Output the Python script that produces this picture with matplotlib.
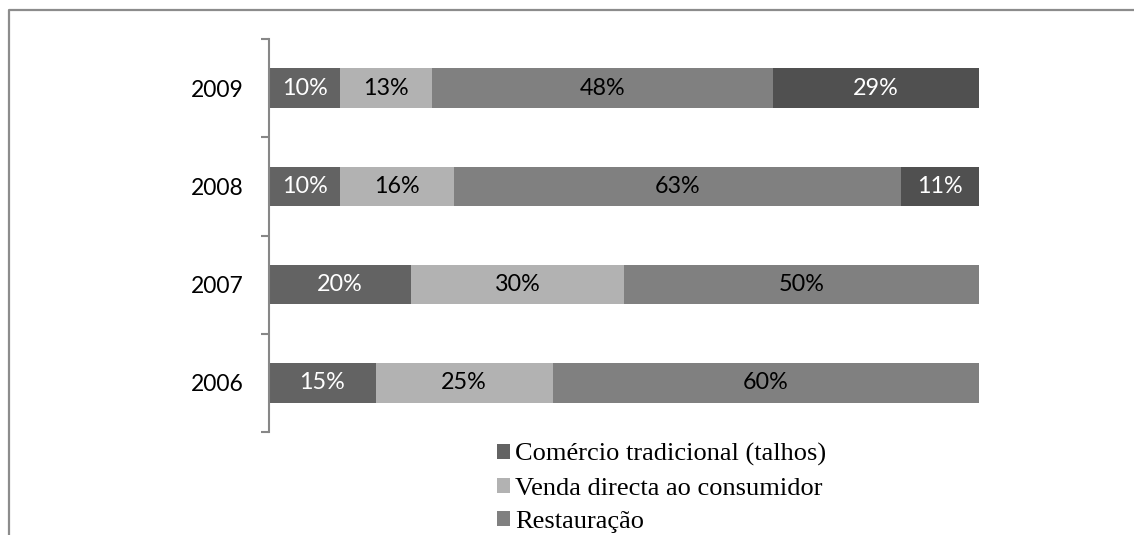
import matplotlib
matplotlib.use("Agg")
import matplotlib.pyplot as plt
from matplotlib.patches import Patch
from matplotlib.lines import Line2D
import numpy as np

years = ["2006", "2007", "2008", "2009"]
series_names = ["Comércio tradicional (talhos)", "Venda directa ao consumidor", "Restauração", "Outros"]
comercio = [15, 20, 10, 10]
venda = [25, 30, 16, 13]
restauracao = [60, 50, 63, 48]
outros = [0, 0, 11, 29]
series_values = [comercio, venda, restauracao, outros]
colors = ["#636363", "#b2b2b2", "#808080", "#505050"]
text_colors = ["white", "black", "black", "white"]

W, H = 1134, 535
fig = plt.figure(figsize=(W / 100, H / 100), dpi=100)
fig.patch.set_facecolor("white")

ax = fig.add_axes([269 / W, 1 - 432 / H, (979 - 269) / W, (432 - 39) / H])
y = np.arange(len(years))
left = np.zeros(len(years))
for vals, col, tcol in zip(series_values, colors, text_colors):
    vals = np.array(vals, dtype=float)
    bars = ax.barh(y, vals, left=left, height=0.4, color=col, edgecolor="none")
    for b, v in zip(bars, vals):
        if v > 0:
            ax.text(b.get_x() + b.get_width() / 2, b.get_y() + b.get_height() / 2,
                    f"{int(v)}%", ha="center", va="center", color=tcol,
                    fontsize=16.8, family="Lato")
    left += vals

ax.set_xlim(0, 100)
ax.set_ylim(-0.5, len(years) - 0.5)
for s in ["top", "right", "bottom"]:
    ax.spines[s].set_visible(False)
ax.spines["left"].set_color("#878787")
ax.spines["left"].set_linewidth(1.5)
ax.set_xticks([])
ax.set_yticks(np.arange(-0.5, len(years)))
ax.set_yticklabels([])
ax.set_yticks(y, minor=True)
ax.set_yticklabels(years, minor=True, fontsize=16.5, family="Lato")
ax.tick_params(axis="y", which="major", length=6, width=1.5, color="#878787")
ax.tick_params(axis="y", which="minor", length=0, pad=18)

handles = [Patch(facecolor=c, edgecolor="none") for c in colors[:3]]
leg = fig.legend(handles, series_names[:3], loc="upper left",
                 bbox_to_anchor=(497 / W, 1 - 443 / H), frameon=False,
                 prop={"family": "Liberation Serif", "size": 19},
                 handlelength=0.5, handleheight=0.5, handletextpad=0.2,
                 labelspacing=0.44, borderpad=0, borderaxespad=0)

# outer border (left and top)
fig.add_artist(Line2D([8.5 / W, 8.5 / W, 1.0], [0.0, 1 - 10 / H, 1 - 10 / H],
                      transform=fig.transFigure, color="#8c8c8c", linewidth=1.6))

fig.savefig("out.png", dpi=100, facecolor="white")
